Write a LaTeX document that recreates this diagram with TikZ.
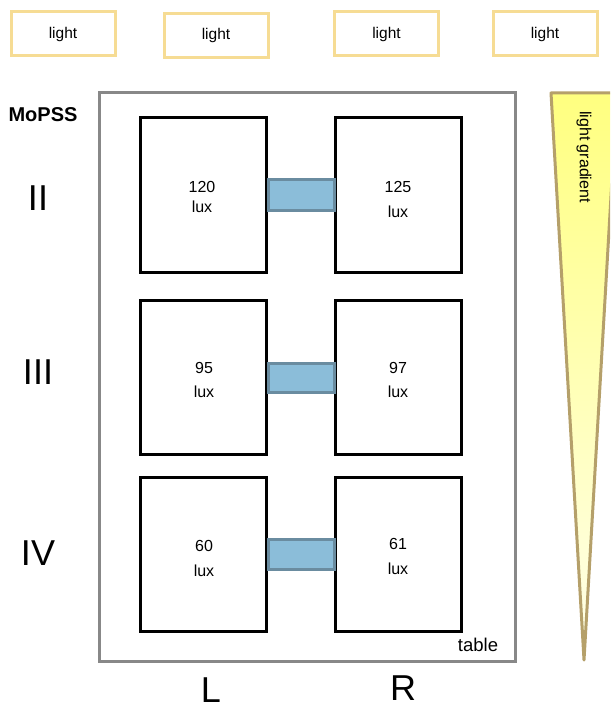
\documentclass[tikz,border=0pt]{standalone}
\usepackage{fontspec}
\setmainfont{Liberation Sans}
\begin{document}
\begin{tikzpicture}[x=1pt,y=-1pt,
  lightbox/.style={draw=lightgold,line width=3pt,minimum width=104pt,minimum height=44pt,inner sep=0pt,font=\fontsize{15.5}{18}\selectfont},
  cage/.style={draw=black,line width=3pt,minimum width=126pt,minimum height=154pt,inner sep=0pt},
  bridge/.style={draw=bridgeline,fill=bridgefill,line width=3pt},
  val/.style={font=\fontsize{16}{18}\selectfont,inner sep=0pt},
  big/.style={font=\fontsize{36}{40}\selectfont,inner sep=0pt}]
\definecolor{lightgold}{HTML}{F6DC94}
\definecolor{bridgeline}{HTML}{6A8CA0}
\definecolor{bridgefill}{HTML}{8BBDD9}
\definecolor{tablegray}{HTML}{888888}
\definecolor{gradline}{HTML}{B5A06A}
\useasboundingbox (0,0) rectangle (610,711);
\begin{scope}
\clip (0,0) rectangle (610,711);
% light boxes
\node[lightbox] (l1) at (63,34) {light};
\node[lightbox] (l2) at (216,35.5) {light};
\node[lightbox] (l3) at (386.5,34) {light};
\node[lightbox] (l4) at (545,34) {light};
% table
\node[draw=tablegray,line width=3pt,minimum width=416pt,minimum height=568pt,inner sep=0pt] (table) at (307,377) {};
\node[inner sep=0pt,font=\fontsize{18.5}{22}\selectfont] (tlabel) at (478,645) {table};
% cages
\node[cage] (a1) at (203.5,195) {};
\node[cage] (b1) at (398.5,195) {};
\node[cage] (a2) at (203.5,377.5) {};
\node[cage] (b2) at (398.5,377.5) {};
\node[cage] (a3) at (203.5,554) {};
\node[cage] (b3) at (398.5,554) {};
% bridges
\draw[bridge] (a1.east |- 0,180) rectangle (b1.west |- 0,211);
\draw[bridge] (a2.east |- 0,363) rectangle (b2.west |- 0,392);
\draw[bridge] (a3.east |- 0,539) rectangle (b3.west |- 0,569);
% values
\node[val] (v1) at (202,187) {120};
\node[val] (u1) at (202,207) {lux};
\node[val] (v2) at (398,187) {125};
\node[val] (u2) at (398,212) {lux};
\node[val] (v3) at (204,368) {95};
\node[val] (u3) at (204,392) {lux};
\node[val] (v4) at (398,368) {97};
\node[val] (u4) at (398,392) {lux};
\node[val] (v5) at (204,546) {60};
\node[val] (u5) at (204,571) {lux};
\node[val] (v6) at (398,544) {61};
\node[val] (u6) at (398,569) {lux};
% side labels
\node[inner sep=0pt,font=\fontsize{20}{24}\selectfont\bfseries] (mopss) at (43,115) {MoPSS};
\node[big] (r2) at (38,198) {II};
\node[big] (r3) at (38,372) {III};
\node[big] (r4) at (38,553) {IV};
\node[big] (cl) at (211,690) {L};
\node[big] (cr) at (403,688) {R};
% gradient
\shade[top color=yellow!50,bottom color=yellow!8] (551,93) -- (617,93) -- (584,660) -- cycle;
\draw[gradline,line width=3pt,line join=round] (551,93) -- (617,93) -- (584,660) -- cycle;
\node[rotate=-90,inner sep=0pt,font=\fontsize{16}{18}\selectfont] (grad) at (584,157) {light gradient};
\end{scope}
\end{tikzpicture}
\end{document}
